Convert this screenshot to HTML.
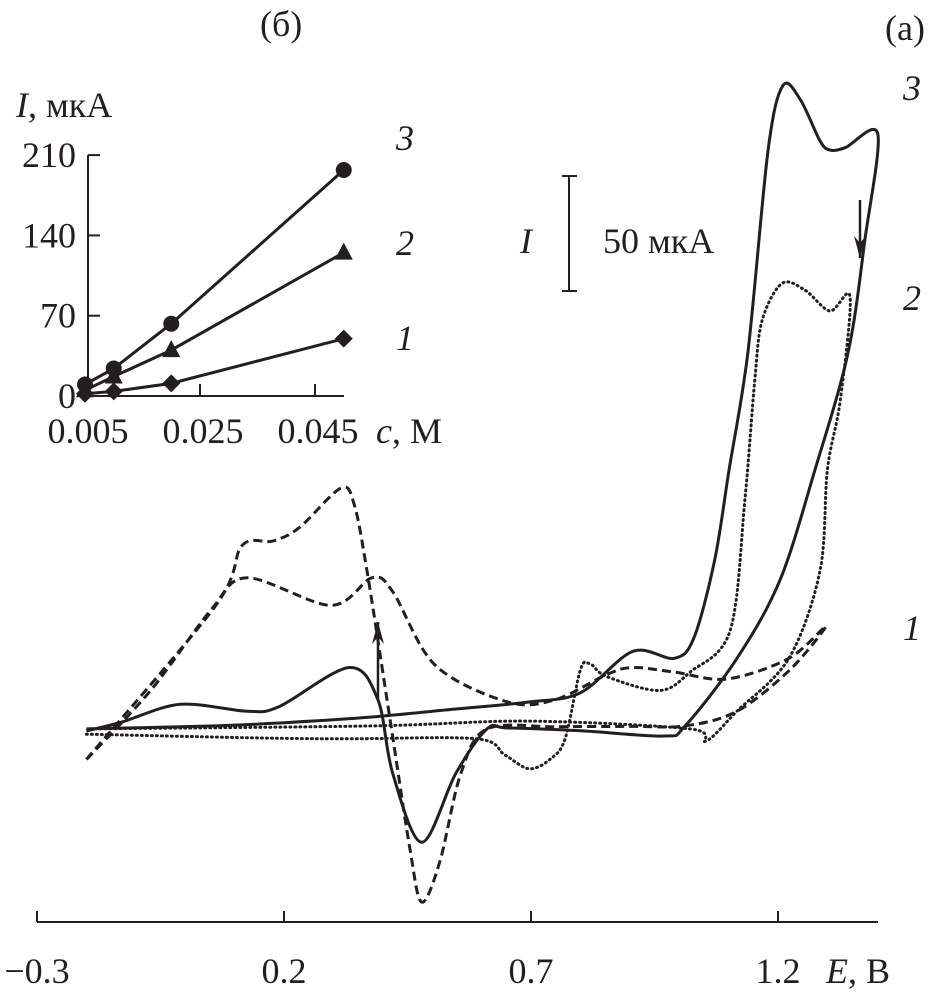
<!DOCTYPE html>
<html><head><meta charset="utf-8">
<style>
html,body{margin:0;padding:0;background:#fff;}
svg{display:block;}
text{font-family:"Liberation Serif",serif;fill:#231f20;}
</style></head>
<body>
<svg id="chart" width="948" height="993" viewBox="0 0 948 993">
<g id="main"></g>
<g id="inset"></g>
</svg>
<script>
// ---------- Main CV data (E in V, I in µA) ----------
const cv1E = [-0.20,0.062,0.115,0.178,0.232,0.315,0.342,0.368,0.415,0.455,0.479,0.516,0.558,0.611,0.75,0.9,1.012,1.117,1.224,1.297,1.222,1.097,0.99,0.906,0.854,0.749,0.653,0.506,0.42,0.378,0.295,0.125,0.052,-0.07,-0.20];
const cv1I = [-15,52,78,80,86,103,96,67,2,-54,-77,-59,-21,-1.7,-0.8,-0.6,-0.4,6,24,43,29,20,23,25,22,11,10,26,58,64,52,64,50,15,-15];
const cv2E = [-0.2,0.168,0.334,0.59,0.647,0.696,0.738,0.769,0.80,0.82,0.854,0.96,1.022,1.103,1.133,1.153,1.168,1.208,1.255,1.305,1.346,1.326,1.30,1.285,1.222,1.117,1.054,1.022,0.696,0.378,-0.2];
const cv2I = [-4,-5.7,-6,-6,-13,-19,-15,-6,24,26.5,21,15,23,41,98,150,176,192,189,180,186,141,111,67,29,6,-7,-1.7,1.7,-0.4,-1.7];
const cv3E = [-0.20,0.062,0.2,0.378,0.55,0.696,0.80,0.906,0.99,1.03,1.072,1.101,1.139,1.18,1.21,1.245,1.285,1.305,1.336,1.402,1.376,1.342,1.275,1.204,1.117,1.012,0.969,0.8,0.653,0.611,0.548,0.479,0.42,0.39,0.332,0.19,0.125,-0.01,-0.128,-0.20];
const cv3I = [-1.7,-0.4,1,3.5,7,10,14,32,29,38,72,111,162,250,278,272,254,250,251,257,211,162,111,63,29,-0.4,-4.8,-2.5,-1.3,-1.7,-21,-51,-21,11,25,8,6,9,1.3,-2.6];
const xTicks = [-0.3,0.2,0.7,1.2];
const xTickLabels = ["\u22120.3","0.2","0.7","1.2"];

// ---------- Inset data (c in M, I in µA) ----------
const insetC = [0.005,0.01,0.02,0.05];
const inset1 = [2,4,11,50];
const inset2 = [5,17,40,125];
const inset3 = [10,24,63,197];
const insetYTicks = [0,70,140,210];
const insetXTicks = [0.005,0.025,0.045];
const insetXTickLabels = ["0.005","0.025","0.045"];

const NS="http://www.w3.org/2000/svg";
function mk(tag,attrs,parent){const e=document.createElementNS(NS,tag);for(const k in attrs)e.setAttribute(k,attrs[k]);parent.appendChild(e);return e;}
const X=E=>37+(E+0.3)*494;
const Y=I=>725-I*2.3;
const IX=c=>85+(c-0.005)*5750;
const IY=v=>396-v*80.3/70;
const FS=36;

function spline(pts){
  let d="M"+pts[0][0].toFixed(1)+","+pts[0][1].toFixed(1);
  for(let i=0;i<pts.length-1;i++){
    const p0=pts[Math.max(0,i-1)],p1=pts[i],p2=pts[i+1],p3=pts[Math.min(pts.length-1,i+2)];
    const t=0.16;
    const c1=[p1[0]+(p2[0]-p0[0])*t,p1[1]+(p2[1]-p0[1])*t];
    const c2=[p2[0]-(p3[0]-p1[0])*t,p2[1]-(p3[1]-p1[1])*t];
    d+=" C"+c1.map(v=>v.toFixed(1))+" "+c2.map(v=>v.toFixed(1))+" "+p2[0].toFixed(1)+","+p2[1].toFixed(1);
  }
  return d;
}
const main=document.getElementById('main');
const inset=document.getElementById('inset');

let ax=mk('line',{x1:37,y1:922,x2:878,y2:922,stroke:'#231f20','stroke-width':2},main);


xTicks.forEach((t,i)=>{
  let tk=mk('line',{x1:X(t),y1:922,x2:X(t),y2:911,stroke:'#231f20','stroke-width':2},main);
  
  
  let tl=mk('text',{x:X(t),y:983,'font-size':FS,'text-anchor':'middle'},main);
  tl.textContent=xTickLabels[i];
  
  
});
let xt=mk('text',{x:826,y:983,'font-size':FS},main);
xt.innerHTML='<tspan font-style="italic">E</tspan>, В';



function curve(Es,Is,dash,w,name){
  const pts=Es.map((e,i)=>[X(e),Y(Is[i])]);
  const p=mk('path',{d:spline(pts),fill:'none',stroke:'#231f20','stroke-width':w,'stroke-linejoin':'round'},main);
  if(dash)p.setAttribute('stroke-dasharray',dash);
  if(dash==='1 4')p.setAttribute('stroke-linecap','round');
  
  
}
curve(cv1E,cv1I,'9 5',3,'cv-curve-1');
curve(cv2E,cv2I,'1 4',3,'cv-curve-2');
curve(cv3E,cv3I,null,3,'cv-curve-3');

function arrow(x,y1,y2,name){
  const g=mk('g',{},main);
  
  
  mk('line',{x1:x,y1:y1,x2:x,y2:y2,stroke:'#231f20','stroke-width':2.5},g);
  const dir=y2<y1?1:-1;
  mk('path',{d:`M${x},${y2} L${x-6},${y2+dir*22} L${x},${y2+dir*15} L${x+6},${y2+dir*22} Z`,fill:'#231f20'},g);
}
arrow(378,700,622,'arrow-up');
arrow(860,200,258,'arrow-down');

const sb=mk('g',{},main);


mk('line',{x1:569,y1:176,x2:569,y2:291,stroke:'#231f20','stroke-width':2},sb);
mk('line',{x1:562,y1:176,x2:577,y2:176,stroke:'#231f20','stroke-width':2},sb);
mk('line',{x1:562,y1:291,x2:577,y2:291,stroke:'#231f20','stroke-width':2},sb);
let sI=mk('text',{x:520,y:253,'font-size':FS,'font-style':'italic'},main);sI.textContent='I';


let sL=mk('text',{x:603,y:253,'font-size':FS},main);sL.textContent='50 мкА';



[['3',903,100],['2',903,310],['1',903,640]].forEach(a=>{
  let t=mk('text',{x:a[1],y:a[2],'font-size':FS,'font-style':'italic'},main);t.textContent=a[0];
  
  
});
let pa=mk('text',{x:885,y:40,'font-size':FS},main);pa.textContent='(а)';


let pb=mk('text',{x:260,y:36,'font-size':FS},main);pb.textContent='(б)';



let iy=mk('line',{x1:88,y1:155,x2:88,y2:396,stroke:'#231f20','stroke-width':2},inset);


let ixa=mk('line',{x1:88,y1:396,x2:344,y2:396,stroke:'#231f20','stroke-width':2},inset);


insetYTicks.forEach(t=>{
  let tk=mk('line',{x1:88,y1:IY(t),x2:100,y2:IY(t),stroke:'#231f20','stroke-width':2},inset);
  
  
  let tl=mk('text',{x:76,y:IY(t)+12,'font-size':FS,'text-anchor':'end'},inset);tl.textContent=t;
  
  
});
insetXTicks.forEach((t,i)=>{
  if(i>0){let tk=mk('line',{x1:IX(t),y1:396,x2:IX(t),y2:384,stroke:'#231f20','stroke-width':2},inset);
  
  }
  let tl=mk('text',{x:IX(t)+3,y:443,'font-size':FS,'text-anchor':'middle'},inset);tl.textContent=insetXTickLabels[i];
  
  
});
let ixt=mk('text',{x:376,y:443,'font-size':FS},inset);
ixt.innerHTML='<tspan font-style="italic">c</tspan>, М';


let iyt=mk('text',{x:16,y:117,'font-size':FS},inset);
iyt.innerHTML='<tspan font-style="italic">I</tspan>, мкА';



function series(vals,shape,name){
  const g=mk('g',{},inset);
  
  
  mk('polyline',{points:insetC.map((c,i)=>IX(c)+','+IY(vals[i])).join(' '),fill:'none',stroke:'#231f20','stroke-width':3},g);
  insetC.forEach((c,i)=>{
    const x=IX(c),y=IY(vals[i]);let m;
    if(shape==='circle')m=mk('circle',{cx:x,cy:y,r:8,fill:'#231f20'},g);
    else if(shape==='tri')m=mk('path',{d:`M${x},${y-10} L${x+9},${y+7} L${x-9},${y+7} Z`,fill:'#231f20'},g);
    else m=mk('path',{d:`M${x},${y-9} L${x+9},${y} L${x},${y+9} L${x-9},${y} Z`,fill:'#231f20'},g);
    
    
  });
}
series(inset1,'diamond','inset-series-1');
series(inset2,'tri','inset-series-2');
series(inset3,'circle','inset-series-3');
[['3',396,150],['2',396,255],['1',396,350]].forEach(a=>{
  let t=mk('text',{x:a[1],y:a[2],'font-size':FS,'font-style':'italic'},inset);t.textContent=a[0];
  
  
});
</script>
</body></html>
